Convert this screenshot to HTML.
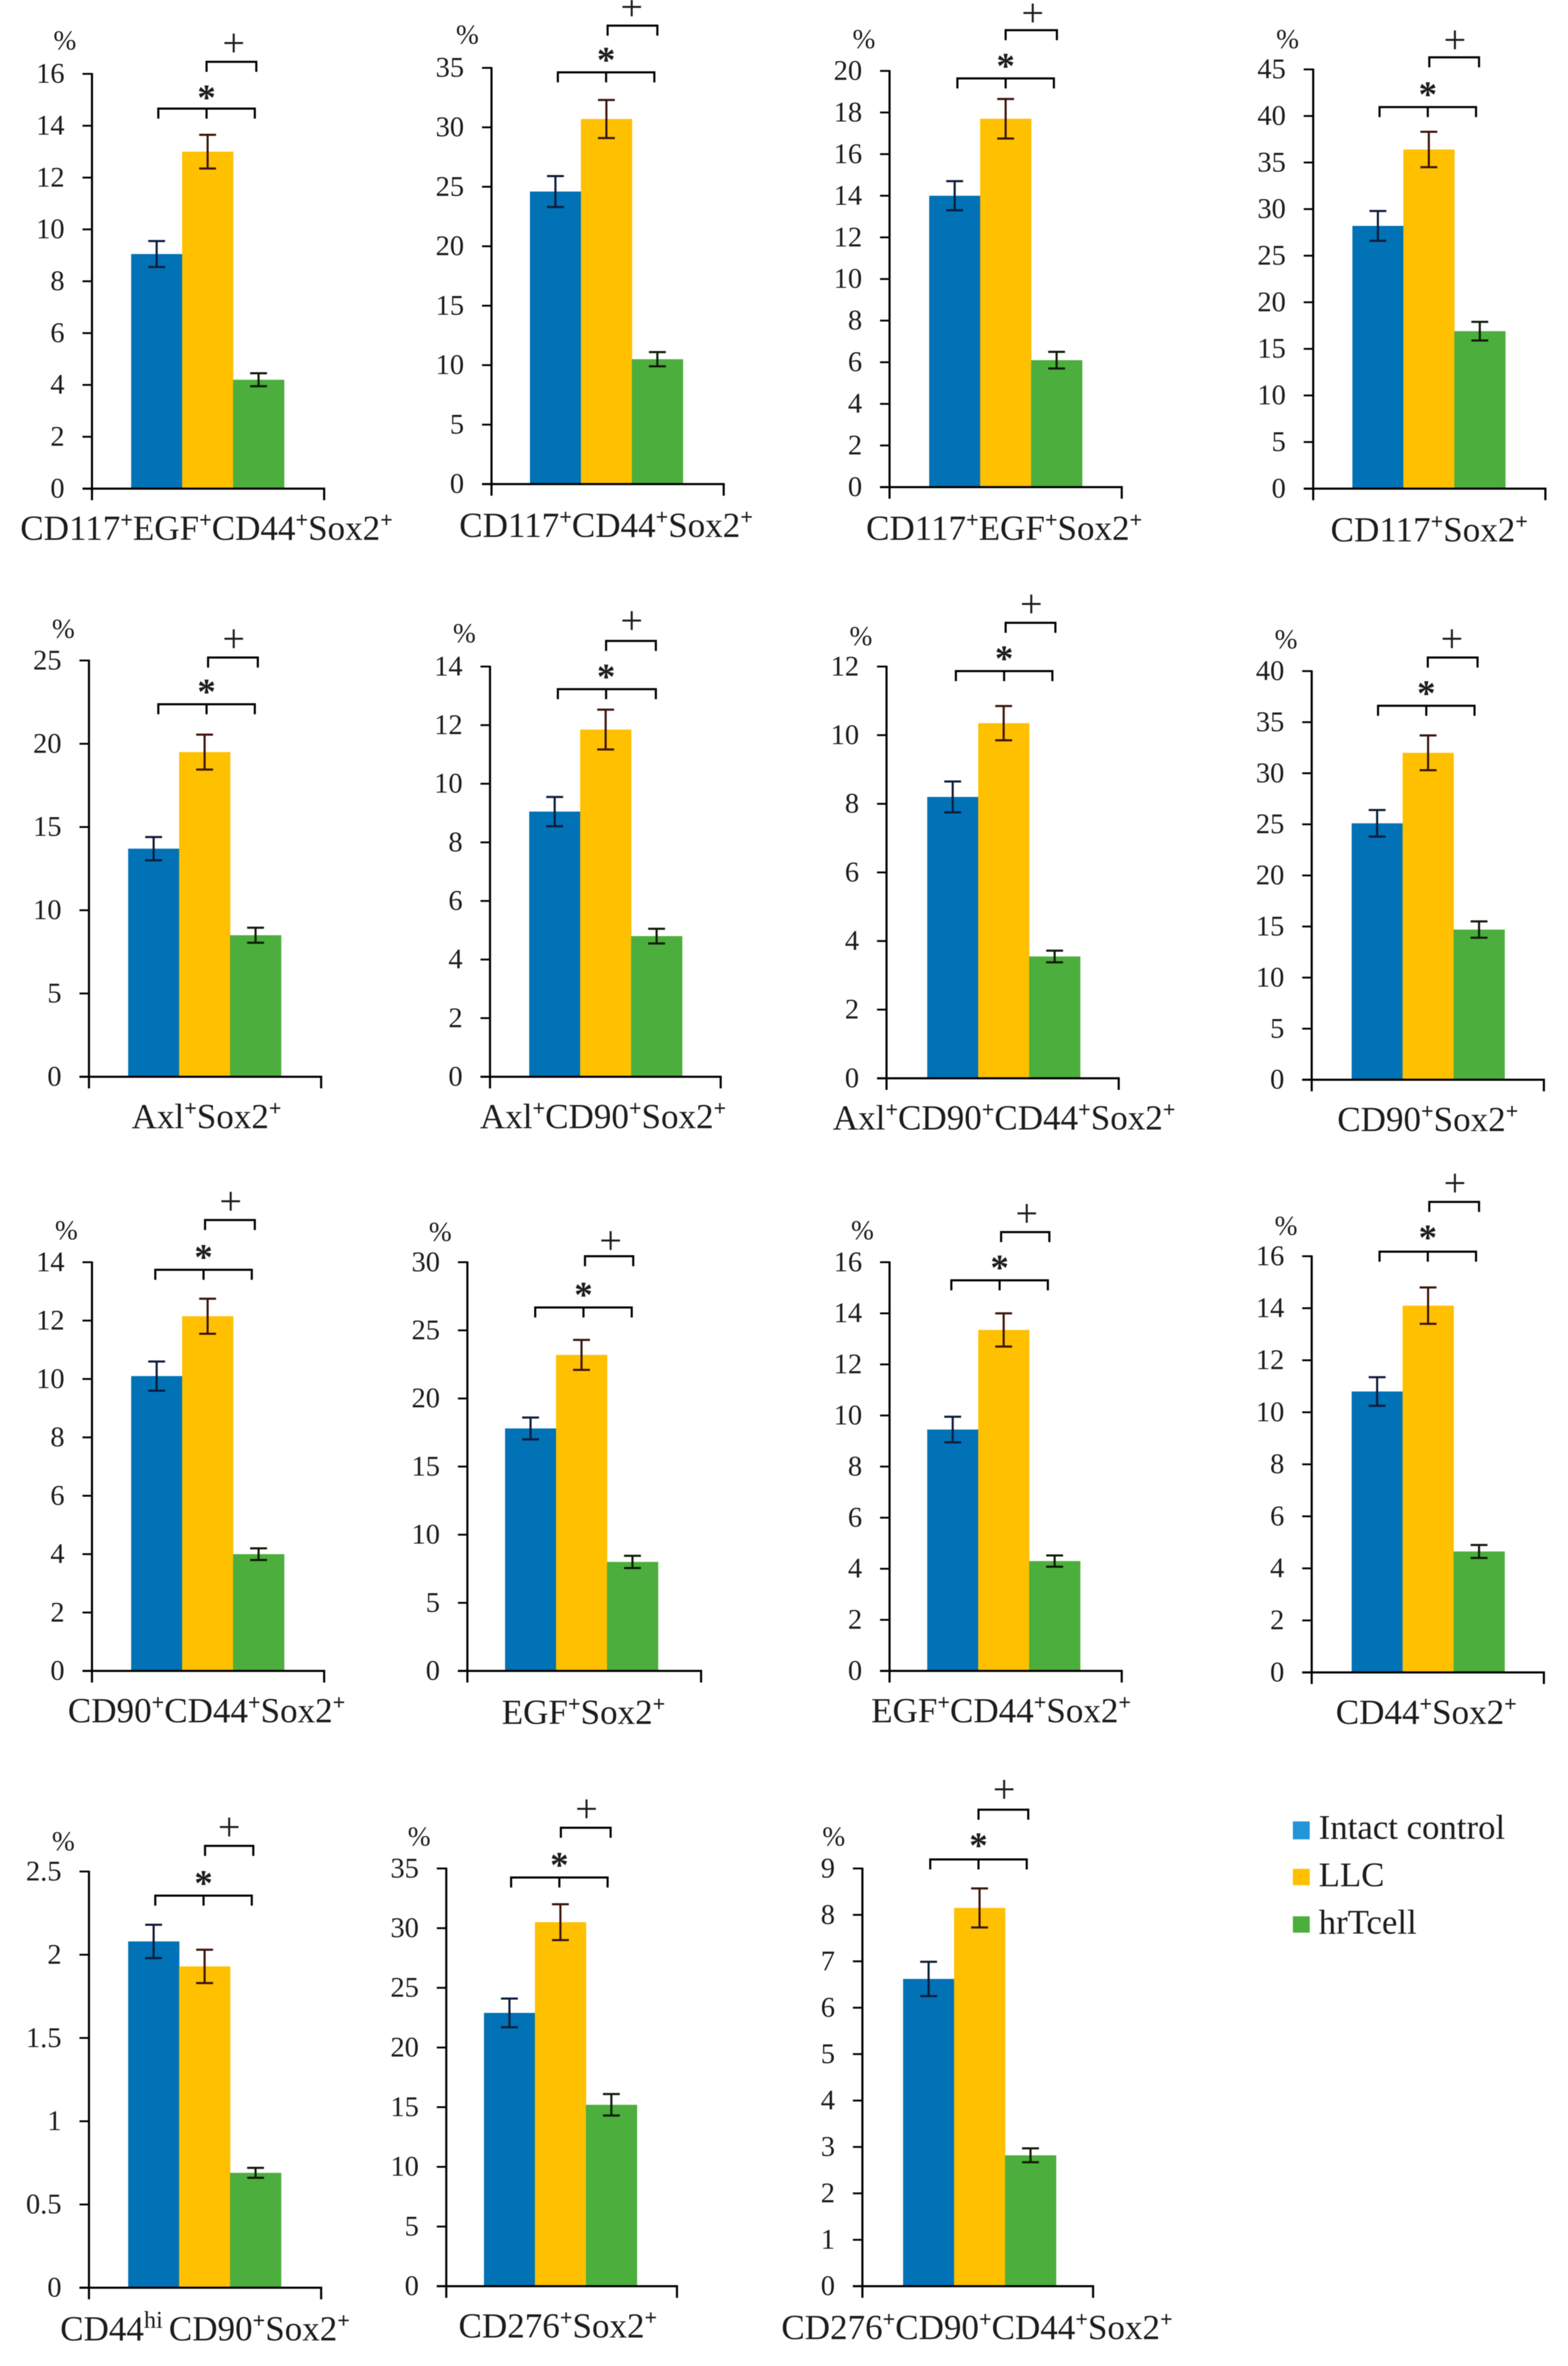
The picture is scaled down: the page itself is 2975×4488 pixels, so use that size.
<!DOCTYPE html>
<html lang="en">
<head>
<meta charset="utf-8">
<title>Sox2 positive cell populations</title>
<style>
html,body{margin:0;padding:0;background:#fff;}
svg{display:block;filter:blur(0.8px);}
text{font-family:"Liberation Serif",serif;fill:#1c1c1c;}
</style>
</head>
<body>
<svg id="chart" xmlns="http://www.w3.org/2000/svg" width="2975" height="4488" viewBox="0 0 2975 4488">
  <rect x="0" y="0" width="2975" height="4488" fill="#ffffff"/>
  <g>
    <rect x="2453" y="3455" width="32" height="34" fill="#2196d6"/>
    <text x="2502" y="3488" font-size="66">Intact control</text>
    <rect x="2453" y="3545" width="32" height="31" fill="#ffc000"/>
    <text x="2502" y="3578" font-size="66">LLC</text>
    <rect x="2453" y="3635" width="32" height="31" fill="#4cae3c"/>
    <text x="2502" y="3668" font-size="66">hrTcell</text>
  </g>
</svg>
<script>
// Chart data
const panelLabels = [
  "CD117+EGF+CD44+Sox2+","CD117+CD44+Sox2+","CD117+EGF+Sox2+","CD117+Sox2+",
  "Axl+Sox2+","Axl+CD90+Sox2+","Axl+CD90+CD44+Sox2+","CD90+Sox2+",
  "CD90+CD44+Sox2+","EGF+Sox2+","EGF+CD44+Sox2+","CD44+Sox2+",
  "CD44^hi CD90+Sox2+","CD276+Sox2+","CD276+CD90+CD44+Sox2+"
];
const seriesNames = ["intact-control","llc","hrtcell"];
const intactValues = [9.05,24.6,14,28.2,13.7,9.05,8.2,25.1,10.1,17.8,9.45,10.8,2.08,22.9,6.62];
const llcValues = [13,30.7,17.7,36.4,19.5,11.85,10.35,32,12.15,23.2,13.35,14.1,1.93,30.5,8.15];
const hrtcellValues = [4.2,10.5,6.1,16.9,8.5,4.8,3.55,14.7,4,8,4.3,4.65,0.69,15.2,2.82];
const intactErrors = [0.5,1.3,0.7,1.6,0.7,0.5,0.45,1.3,0.5,0.8,0.5,0.55,0.1,1.2,0.37];
const llcErrors = [0.65,1.6,0.95,1.9,1.05,0.68,0.5,1.7,0.6,1.1,0.65,0.7,0.1,1.5,0.42];
const hrtcellErrors = [0.25,0.6,0.4,1,0.45,0.25,0.17,0.8,0.2,0.45,0.22,0.25,0.03,0.9,0.15];
const tickLabels = [
  ["0","2","4","6","8","10","12","14","16"],
  ["0","5","10","15","20","25","30","35"],
  ["0","2","4","6","8","10","12","14","16","18","20"],
  ["0","5","10","15","20","25","30","35","40","45"],
  ["0","5","10","15","20","25"],
  ["0","2","4","6","8","10","12","14"],
  ["0","2","4","6","8","10","12"],
  ["0","5","10","15","20","25","30","35","40"],
  ["0","2","4","6","8","10","12","14"],
  ["0","5","10","15","20","25","30"],
  ["0","2","4","6","8","10","12","14","16"],
  ["0","2","4","6","8","10","12","14","16"],
  ["0","0.5","1","1.5","2","2.5"],
  ["0","5","10","15","20","25","30","35"],
  ["0","1","2","3","4","5","6","7","8","9"]
];

// Panel layout (kept apart from the data)
const S = 2975 / 1040;
const layoutKeys = ["ax","y0","top","xEnd","bar","starY","starL","starR","plusY","plusL","plusR","starX","starTextY","plusX","plusTextY","pctX","pctY","labelX","labelY"];
const panelLayouts = [
  [61,324,49,215,87,72,105,169,41,137,170,137,62,155,29,43,27,137,350],
  [326,321,45,480,351.5,48,370,434,17,403,436,402,37,419,5,310,23,402,348],
  [590,323,47,744,616.3,52,635,699,20,667,701,667,41,685,9,573,26,666,350],
  [871,324,46,1025,897,71,915,979,38,948,981,947,60,965,27,854,26,948,351],
  [59,714,438,213,85,467,105,169,436,138,171,137,456,155,424,42,417,137,740],
  [325,714,442,478,351,457,370,435,425,402,435,402,446,419,412,308,420,400,740],
  [588,715,442,742,615,445,634,698,413,667,700,666,434,684,401,571,422,666,741],
  [870,716,445,1024,896.5,468,914,978,436,947,980,946,457,963,424,853,424,947,742],
  [61,1108,837,215,87,842,103,167,809,136,169,135,831,153,797,44,816,137,1134],
  [310,1108,837,465,335,867,355,419,833,388,420,387,856,405,823,292,817,387,1135],
  [590,1108,837,744,615,849,631,695,817,664,696,663,838,681,805,572,816,664,1134],
  [870,1109,833,1024,896.5,830,915,979,797,948,981,947,818,965,785,853,813,946,1135],
  [59,1517,1241,213,85,1257,103,167,1224,136,168,135,1246,152,1212,42,1221,136,1544],
  [296,1516,1239,449,321,1245,339,403,1212,372,405,371,1234,389,1200,278,1218,370,1542],
  [572,1516,1239,725,599,1233,617,681,1200,649,682,649,1221,666,1187,553,1218,648,1543]
];
const BAR_W = 33.8 * S;
const seriesColors = ["#0072b5","#ffc000","#4cae3c"];
const capColors = ["#0b1b3a","#3a1408","#101a08"];

const NS = "http://www.w3.org/2000/svg";
const svg = document.getElementById("chart");

function make(parent, tag, attrs) {
  const node = document.createElementNS(NS, tag);
  for (const k in attrs) node.setAttribute(k, attrs[k]);
  parent.appendChild(node);
  return node;
}
function slug(s) {
  return s.replace(/\^/g, "").replace(/\+/g, "-pos-").replace(/[^A-Za-z0-9-]+/g, "-").replace(/-+$/,"").toLowerCase();
}
function axisY(layout, maxValue) {
  const y0 = layout.y0 * S, top = layout.top * S;
  return function (v) { return y0 - (v / maxValue) * (y0 - top); };
}
function barX(layout, seriesIndex) {
  return layout.bar * S + seriesIndex * BAR_W;
}
function line(parent, x1, y1, x2, y2, color, width) {
  return make(parent, "line", {x1: x1, y1: y1, x2: x2, y2: y2, stroke: color, "stroke-width": width});
}
function writeLabel(textEl, label) {
  // "+" and "^xx" become raised text
  const parts = label.match(/\^[a-z]+ ?|\+|[^+^]+/g);
  let raised = false;
  parts.forEach(function (part) {
    const sup = part === "+" || part[0] === "^";
    const t = document.createElementNS(NS, "tspan");
    t.textContent = part.replace("^", "");
    if (sup) {
      t.setAttribute("font-size", part === "+" ? "42" : "46");
      if (part === "+") t.setAttribute("font-weight", "bold");
      if (!raised) t.setAttribute("dy", "-24");
      raised = true;
    } else if (raised) {
      t.setAttribute("dy", "24");
      raised = false;
    }
    textEl.appendChild(t);
  });
}

panelLabels.forEach(function (label, p) {
  const L = {};
  layoutKeys.forEach(function (k, i) { L[k] = panelLayouts[p][i]; });
  const ticks = tickLabels[p];
  const maxValue = parseFloat(ticks[ticks.length - 1]);
  const y = axisY(L, maxValue);
  const values = [intactValues[p], llcValues[p], hrtcellValues[p]];
  const errors = [intactErrors[p], llcErrors[p], hrtcellErrors[p]];
  const ax = L.ax * S, y0 = L.y0 * S, xEnd = L.xEnd * S;
  const key = slug(label);

  const g = make(svg, "g", {});
  
  

  values.forEach(function (v, s) {
    const bar = make(g, "rect", {x: barX(L, s), y: y(v), width: BAR_W + 0.5, height: y0 - y(v), fill: seriesColors[s]});
    
    
  });

  const axes = make(g, "g", {});
  
  
  line(axes, ax, y(maxValue) - 1.5, ax, y0 + 22, "#000", 4);
  line(axes, ax - 18, y0, xEnd + 2, y0, "#000", 4);
  line(axes, xEnd, y0, xEnd, y0 + 22, "#000", 4);

  ticks.forEach(function (tick) {
    const v = parseFloat(tick);
    line(axes, ax - 18, y(v), ax, y(v), "#000", 3.5);
    const t = make(g, "text", {x: ax - 52, y: y(v) + 17, "text-anchor": "end", "font-size": 54, fill: "#222"});
    t.textContent = tick;
    
    
  });

  values.forEach(function (v, s) {
    const cx = barX(L, s) + BAR_W / 2;
    const eg = make(g, "g", {});
    
    
    const hi = y(v + errors[s]), lo = y(v - errors[s]);
    line(eg, cx, hi, cx, lo, capColors[s], 4);
    line(eg, cx - 16, hi, cx + 16, hi, capColors[s], 4);
    line(eg, cx - 16, lo, cx + 16, lo, capColors[s], 4);
  });

  // significance brackets
  const starY = L.starY * S, starL = L.starL * S, starR = L.starR * S;
  const starBracket = make(g, "path", {
    d: "M" + starL + " " + (starY + 19) + "V" + starY + "H" + starR + "V" + (starY + 19) +
       "M" + (L.starX * S) + " " + starY + "V" + (starY + 19),
    fill: "none", stroke: "#000", "stroke-width": 4});
  
  

  const plusY = L.plusY * S, plusL = L.plusL * S, plusR = L.plusR * S;
  const plusBracket = make(g, "path", {
    d: "M" + plusL + " " + (plusY + 19) + "V" + plusY + "H" + plusR + "V" + (plusY + 19),
    fill: "none", stroke: "#000", "stroke-width": 4});
  
  

  const star = make(g, "text", {x: L.starX * S, y: L.starTextY * S + 31, "text-anchor": "middle", "font-size": 70, "font-weight": "bold", fill: "#111"});
  star.textContent = "*";
  
  

  const plus = make(g, "text", {x: L.plusX * S, y: L.plusTextY * S + 24, "text-anchor": "middle", "font-size": 76, fill: "#111"});
  plus.textContent = "+";
  
  

  const pct = make(g, "text", {x: L.pctX * S, y: L.pctY * S + 17, "text-anchor": "middle", "font-size": 52, fill: "#222"});
  pct.textContent = "%";
  
  

  const xLabel = make(g, "text", {x: L.labelX * S, y: L.labelY * S + 23, "text-anchor": "middle", "font-size": 66.5, fill: "#1c1c1c"});
  writeLabel(xLabel, label);
  
  
});
</script>
</body>
</html>
